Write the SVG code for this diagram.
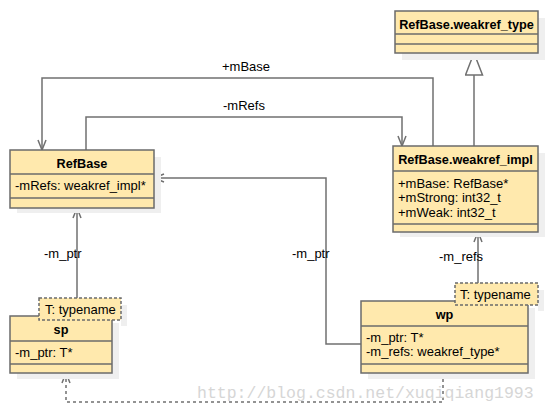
<svg xmlns="http://www.w3.org/2000/svg" width="548" height="413" viewBox="0 0 548 413">
<style>
.bg{fill:#ffffff}
.shadow{fill:#efefef}
.box{fill:#ffe9ad;stroke:#6b6b6b;stroke-width:1.5}
.tp{fill:#ffe9ad;stroke:#6b6b6b;stroke-width:1.5;stroke-dasharray:3,2}
.div{stroke:#6b6b6b;stroke-width:1.5}
.title{font-family:"Liberation Sans",Arial,sans-serif;font-weight:bold;font-size:12.7px;fill:#000;text-anchor:middle}
.attr{font-family:"Liberation Sans",Arial,sans-serif;font-size:13px;fill:#000}
.lbl{font-family:"Liberation Sans",Arial,sans-serif;font-size:13px;fill:#000}
.conn{fill:none;stroke:#707070;stroke-width:1.5}
.dash{stroke-dasharray:3,3}
.wm{font-family:"Liberation Mono","Courier New",monospace;font-size:16.5px;fill:#d6d6d6}
</style>
<defs>
<marker id="open" markerUnits="userSpaceOnUse" viewBox="-1 -1 12 10" refX="10" refY="4" markerWidth="12" markerHeight="10" orient="auto">
<path d="M0,0 L10,4 L0,8" fill="none" stroke="#707070" stroke-width="1.5"/>
</marker>
<marker id="tri" markerUnits="userSpaceOnUse" viewBox="-1 -1 24 19" refX="22" refY="8.5" markerWidth="24" markerHeight="19" orient="auto">
<path d="M0,0 L22,8.5 L0,17 Z" fill="#ffffff" stroke="#707070" stroke-width="1.5"/>
</marker>
</defs>
<rect class="bg" x="0" y="0" width="548" height="413"/>

<g id="connectors">
<path class="conn" d="M433,146 V78 H42 V150" marker-end="url(#open)"/>
<path class="conn" d="M86,150 V117 H402 V146" marker-end="url(#open)"/>
<path class="conn" d="M361,344 H326 V178 H154" marker-end="url(#open)"/>
<path class="conn" d="M77,298 V208" marker-end="url(#open)"/>
<path class="conn" d="M478,283 V232" marker-end="url(#open)"/>
<path class="conn dash" d="M443,373 V402 H66 V373" marker-end="url(#open)"/>
<path class="conn" d="M474,146 V53" marker-end="url(#tri)"/>
<text class="lbl" x="222" y="71">+mBase</text>
<text class="lbl" x="223" y="110">-mRefs</text>
<text class="lbl" x="292" y="258">-m_ptr</text>
<text class="lbl" x="44" y="258">-m_ptr</text>
<text class="lbl" x="439" y="261">-m_refs</text>
</g>

<g id="weakref_type">
<rect class="shadow" x="402" y="18" width="143" height="42"/>
<rect class="box" x="395" y="11" width="143" height="42"/>
<line class="div" x1="395" y1="34" x2="538" y2="34"/>
<line class="div" x1="395" y1="44" x2="538" y2="44"/>
<text class="title" x="466.5" y="28.5">RefBase.weakref_type</text>
</g>

<g id="RefBase">
<rect class="shadow" x="17" y="157" width="144" height="56"/>
<rect class="box" x="10" y="150" width="144" height="58"/>
<line class="div" x1="10" y1="174" x2="154" y2="174"/>
<line class="div" x1="10" y1="198" x2="154" y2="198"/>
<text class="title" x="82" y="168">RefBase</text>
<text class="attr" x="15" y="190">-mRefs: weakref_impl*</text>
</g>

<g id="weakref_impl">
<rect class="shadow" x="400" y="153" width="145" height="84"/>
<rect class="box" x="393" y="146" width="145" height="86"/>
<line class="div" x1="393" y1="171" x2="538" y2="171"/>
<line class="div" x1="393" y1="224" x2="538" y2="224"/>
<text class="title" x="465.5" y="164">RefBase.weakref_impl</text>
<text class="attr" x="398" y="187.5">+mBase: RefBase*</text>
<text class="attr" x="398" y="202">+mStrong: int32_t</text>
<text class="attr" x="398" y="216.5">+mWeak: int32_t</text>
</g>

<g id="sp">
<rect class="shadow" x="17" y="323" width="102" height="56"/>
<rect class="box" x="10" y="316" width="102" height="57"/>
<line class="div" x1="10" y1="341" x2="112" y2="341"/>
<line class="div" x1="10" y1="364" x2="112" y2="364"/>
<text class="title" x="61" y="334">sp</text>
<text class="attr" x="15" y="357">-m_ptr: T*</text>
<rect class="shadow" x="121" y="305" width="6" height="21"/>
<rect class="tp" x="39" y="298" width="82" height="22"/>
<text class="attr" x="45" y="314">T: typename</text>
</g>

<g id="wp">
<rect class="shadow" x="368" y="308" width="167" height="71"/>
<rect class="box" x="361" y="301" width="167" height="72"/>
<line class="div" x1="361" y1="326" x2="528" y2="326"/>
<line class="div" x1="361" y1="364" x2="528" y2="364"/>
<text class="title" x="444.5" y="318.5">wp</text>
<text class="attr" x="366" y="342">-m_ptr: T*</text>
<text class="attr" x="366" y="356">-m_refs: weakref_type*</text>
<rect class="shadow" x="538" y="290" width="6" height="21"/>
<rect class="tp" x="455" y="283" width="83" height="22"/>
<text class="attr" x="460" y="298.5">T: typename</text>
</g>

<text class="wm" x="197" y="398">http://blog.csdn.net/xuqiqiang1993</text>
</svg>
